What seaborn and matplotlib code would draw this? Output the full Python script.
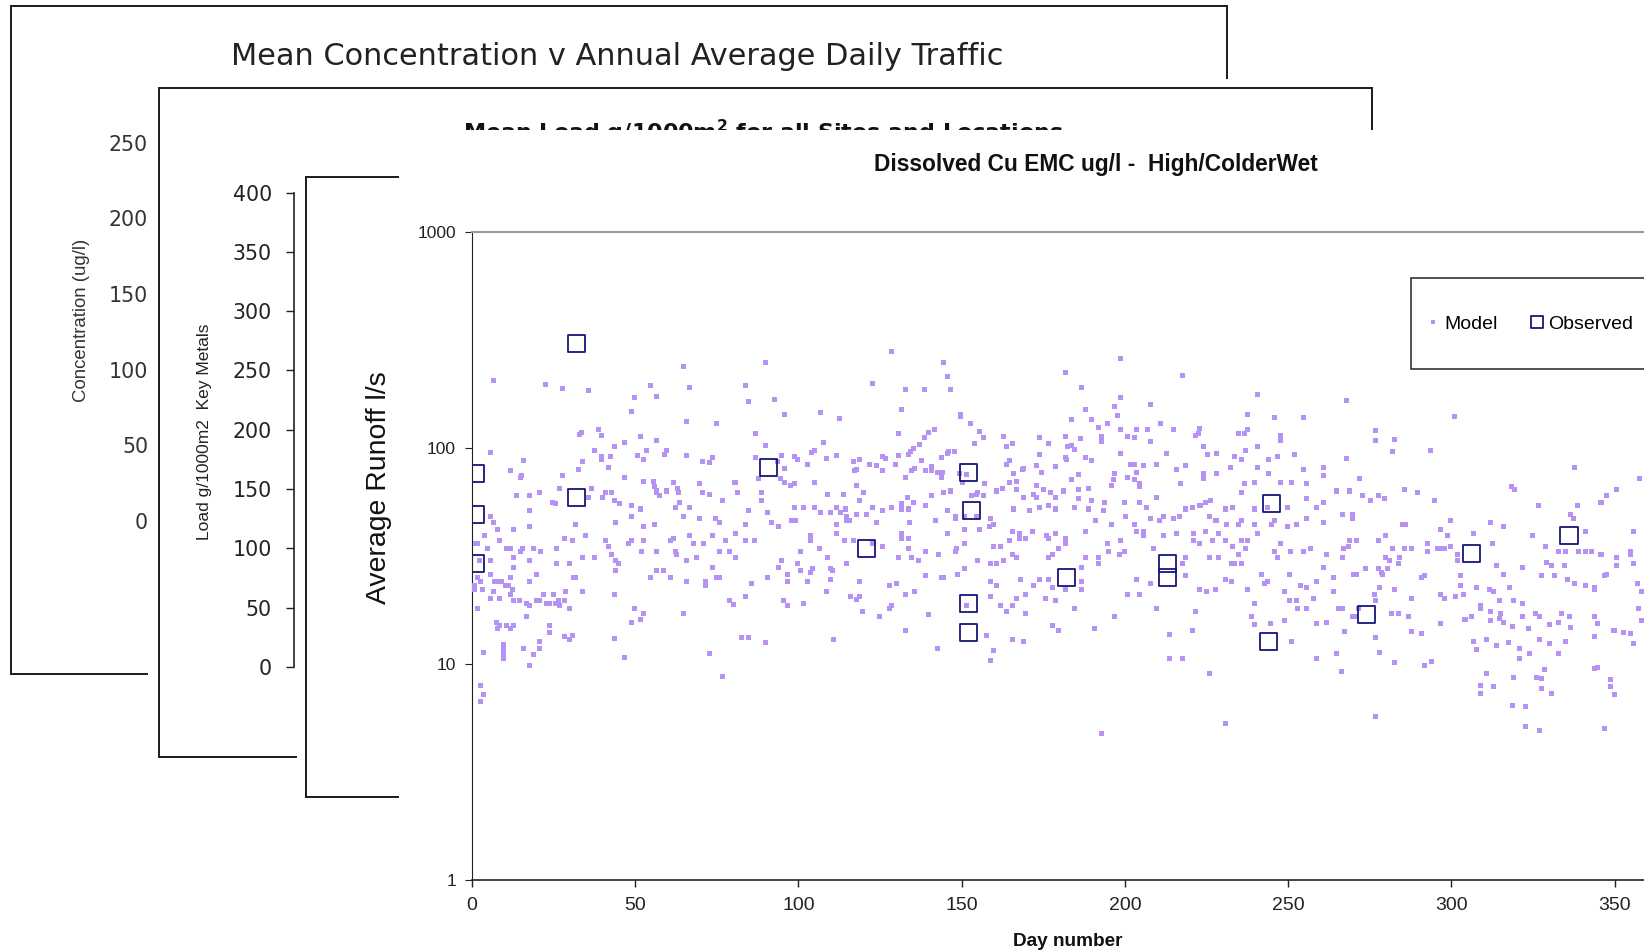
import matplotlib
matplotlib.use("Agg")
import matplotlib.pyplot as plt
from matplotlib.patches import Rectangle
from matplotlib.ticker import NullFormatter
import seaborn as sns

plt.rcParams['font.family'] = ['Liberation Sans', 'DejaVu Sans']
plt.rcParams['mathtext.fontset'] = 'dejavusans'

# ---------------- data ----------------
p1_title = "Mean Concentration v Annual Average Daily Traffic"
p1_ylabel = "Concentration (ug/l)"
p1_ticks = [0, 50, 100, 150, 200, 250]

p2_title = r"Mean Load g/1000m$^{\mathbf{2}}$ for all Sites and Locations"
p2_ylabel = "Load g/1000m2  Key Metals"
p2_ticks = [0, 50, 100, 150, 200, 250, 300, 350, 400]

p3_ylabel = "Average Runoff l/s"

main_title = "Dissolved Cu EMC ug/l -  High/ColderWet"
x_label = "Day number"
x_ticks = [0, 50, 100, 150, 200, 250, 300, 350]
y_ticks = [1, 10, 100, 1000]
y_tick_labels = ["1", "10", "100", "1000"]

obs_day = [1, 1, 1, 32, 32, 91, 121, 152, 153, 152, 152, 182, 213, 213, 245, 244, 274, 306, 336]
obs_val = [76, 49, 29, 303, 59, 81, 34, 77, 51, 19, 14, 25, 29, 25, 55, 12.7, 16.8, 32.5, 39]

model_q1 = [
    (6.6, 205), (22.7, 197), (27.8, 188), (35.7, 183), (48.8, 147), (49.7, 171), (54.8, 194), (56.7, 173),
    (64.8, 237), (66.7, 190), (65.8, 132), (74.8, 129), (51.7, 113), (56.6, 108), (33.0, 115), (33.7, 117),
    (38.8, 121), (39.8, 114), (46.7, 106), (43.7, 101), (37.7, 97), (39.8, 91), (39.8, 88), (42.6, 91),
    (50.8, 92), (52.6, 88), (53.6, 97), (59.0, 93), (59.7, 97), (65.8, 92), (70.7, 86), (72.7, 85),
    (73.8, 90), (5.6, 95), (15.8, 87), (11.7, 78), (15.3, 74), (14.8, 73), (27.8, 74), (32.6, 79),
    (33.9, 86), (41.8, 81), (46.7, 73), (52.5, 70), (55.9, 66), (56.6, 63), (57.6, 60), (59.7, 63),
    (61.7, 69), (63.0, 65), (63.3, 62), (63.6, 56), (62.5, 53), (66.6, 53), (69.7, 68), (72.7, 61),
    (76.8, 57), (80.6, 69), (81.4, 62), (13.7, 60), (17.8, 60), (20.7, 62), (24.7, 56), (25.5, 55),
    (26.8, 65), (35.7, 59), (36.7, 65), (39.9, 59), (40.8, 62), (42.8, 62), (43.7, 57), (45.1, 55),
    (48.9, 54), (48.9, 48), (51.8, 52), (52.5, 43), (55.9, 44), (64.8, 48), (69.7, 47), (75.8, 45),
    (74.7, 47), (80.7, 40), (5.6, 48), (6.6, 45), (7.9, 42), (12.7, 42), (17.8, 43), (17.8, 51),
    (31.9, 44), (34.9, 39), (43.9, 45), (40.8, 37), (41.8, 35), (47.9, 36), (48.9, 37), (52.0, 33),
    (52.7, 37), (56.6, 33), (60.7, 37), (61.7, 38), (62.5, 33), (62.7, 32), (66.8, 39), (67.8, 36),
    (68.9, 31), (71.0, 36), (73.8, 39), (75.8, 33), (77.8, 37), (78.9, 33), (80.7, 31), (65.8, 30),
    (73.8, 28), (71.7, 24), (71.7, 23), (75.0, 25), (75.8, 25), (65.8, 24), (60.7, 25), (54.8, 25),
    (56.6, 27), (58.7, 27), (43.9, 27), (43.9, 30), (44.9, 29), (42.8, 32), (37.7, 31), (33.9, 31),
    (31.1, 25), (31.8, 25), (29.9, 29), (25.8, 29), (25.8, 34), (28.5, 38), (30.9, 37), (20.9, 33),
    (18.8, 34), (14.8, 33), (15.6, 34), (11.7, 34), (10.7, 34), (8.6, 37), (3.8, 39), (1.1, 36),
    (1.8, 36), (4.9, 34), (5.6, 30), (2.5, 30), (12.7, 31), (12.7, 28), (17.8, 30), (19.9, 26),
    (17.8, 24), (11.9, 25), (12.5, 22), (5.6, 26), (1.8, 25), (0.7, 23), (0.7, 22), (2.7, 24),
    (3.2, 22), (7.1, 24), (8.1, 24), (9.1, 24), (10.2, 23), (11.2, 23), (6.6, 21.5), (5.6, 20),
    (8.6, 20), (11.7, 21), (12.7, 19.5), (14.7, 19.5), (16.8, 19), (17.8, 18.5), (16.8, 16.5), (19.7, 19.5),
    (20.7, 19.5), (21.9, 21), (22.9, 19), (23.9, 19), (24.9, 21), (25.5, 19), (26.5, 19.5), (26.8, 18.5),
    (28.5, 19.5), (28.8, 21.5), (29.8, 18), (1.7, 18), (43.6, 21), (49.7, 18), (49.0, 15.5), (51.8, 16),
    (52.7, 17), (64.8, 17), (78.9, 19.7), (80.1, 18.7), (7.6, 15.5), (8.6, 15), (10.7, 15), (12.7, 15),
    (7.8, 14.5), (11.9, 14.5), (23.7, 15), (23.7, 14), (28.5, 13.3), (29.8, 13), (30.9, 13.5), (20.7, 12.7),
    (20.7, 11.7), (9.7, 12.2), (9.7, 11.6), (9.7, 11.1), (9.7, 10.6), (15.8, 11.8), (19.0, 11.0), (3.7, 11.3),
    (43.6, 13.1), (46.7, 10.7), (72.7, 11.1), (17.8, 9.8), (2.7, 7.9), (3.7, 7.2), (2.7, 6.7), (76.8, 8.7),
    (55.6, 70), (56.6, 62), (70.7, 62), (33.9, 21.5),
]

model_q2 = [
    (128.6, 279), (144.6, 249), (145.6, 213), (89.8, 249), (83.7, 194), (84.7, 163), (92.7, 168), (95.7, 142),
    (106.9, 146), (112.7, 136), (122.8, 199), (132.7, 185), (138.6, 185), (146.7, 185), (131.6, 151), (149.7, 142),
    (149.7, 139), (152.6, 129), (155.6, 119), (156.7, 112), (162.8, 113), (173.8, 112), (86.8, 116), (89.8, 102),
    (107.7, 106), (130.8, 116), (138.6, 112), (139.8, 117), (141.7, 121), (137.2, 103), (135.4, 99), (134.2, 96),
    (133.7, 93), (145.9, 96), (147.8, 96), (163.8, 101), (165.6, 104), (153.9, 104), (86.9, 90), (94.7, 92),
    (98.8, 91), (99.7, 88), (104.1, 95), (104.8, 97), (111.8, 92), (108.7, 89), (102.9, 84), (116.9, 86),
    (118.7, 88), (121.7, 84), (123.8, 83), (125.8, 91), (126.8, 89), (129.6, 84), (130.8, 92), (137.8, 87),
    (143.7, 90), (145.7, 94), (163.8, 84), (164.6, 87), (168.7, 79), (172.8, 83), (95.7, 80), (93.7, 86),
    (117.3, 78), (117.9, 79), (125.8, 78), (132.7, 73), (134.7, 78), (135.5, 80), (138.8, 78), (140.8, 82),
    (140.8, 78), (142.7, 77), (143.7, 73), (144.2, 77), (87.9, 72), (94.4, 72), (95.7, 69), (97.7, 67),
    (98.8, 68), (104.8, 69), (117.9, 67), (119.9, 62), (149.3, 76), (150.3, 69), (151.5, 75), (157.0, 68),
    (155.0, 62), (160.7, 63), (162.6, 65), (164.8, 69), (166.9, 70), (166.7, 64), (168.9, 80), (172.8, 67),
    (172.8, 59), (165.8, 76), (88.8, 62), (88.8, 57), (108.9, 61), (113.8, 61), (118.7, 57), (133.5, 59),
    (135.2, 56), (140.8, 60), (144.6, 62), (146.7, 63), (153.1, 60), (154.6, 61), (156.7, 60), (165.8, 52),
    (168.9, 59), (170.7, 51), (172.0, 61), (84.7, 51), (90.6, 50), (98.8, 53), (101.5, 53), (104.8, 53),
    (106.8, 50), (109.7, 50), (111.8, 53), (112.8, 50), (114.3, 52), (114.8, 48), (115.8, 46), (117.9, 49),
    (121.0, 49), (122.8, 53), (125.8, 51), (128.6, 53), (131.6, 55), (131.6, 52), (133.7, 52), (138.8, 54),
    (145.6, 51), (148.0, 48), (148.0, 47), (151.0, 48), (154.6, 48), (158.7, 47), (159.7, 44), (158.5, 43),
    (83.7, 44), (91.8, 45), (94.0, 43), (98.0, 46), (99.0, 46), (111.8, 44), (111.8, 40), (114.8, 46),
    (123.8, 45), (133.9, 45), (141.9, 46), (145.7, 40), (150.8, 42), (155.6, 42), (165.6, 41), (171.7, 41),
    (83.7, 37), (86.7, 37), (103.6, 39), (103.6, 37), (106.6, 34), (100.8, 33), (108.9, 31), (114.2, 37),
    (114.6, 29), (116.9, 37), (122.8, 36), (125.7, 35), (131.6, 40), (131.6, 38), (133.7, 38), (130.8, 31),
    (133.7, 34), (134.7, 31), (136.8, 30), (138.8, 33), (142.9, 32), (148.0, 33), (148.5, 34), (150.8, 36),
    (154.8, 30), (158.7, 29), (160.7, 29), (162.8, 30), (159.7, 35), (161.8, 35), (164.8, 37), (165.6, 32),
    (166.7, 31), (167.7, 40), (167.7, 38), (169.7, 38), (94.7, 30), (94.0, 28), (90.6, 25), (85.7, 23.5),
    (83.7, 20.5), (96.7, 26), (96.7, 24), (99.8, 29), (100.8, 27), (103.6, 26.5), (104.4, 27.5), (109.7, 27.5),
    (110.5, 27), (109.7, 24.5), (108.7, 21.5), (102.9, 24), (95.4, 19.5), (96.7, 18.5), (101.5, 19), (114.8, 29),
    (118.7, 24), (115.9, 20.5), (118.7, 20.5), (117.9, 19.8), (119.7, 17.5), (124.8, 16.5), (127.9, 23), (130.1, 23.5),
    (127.9, 18), (128.6, 18.5), (132.7, 21), (135.7, 21.5), (138.8, 25.5), (139.8, 16.8), (143.7, 25), (144.6, 25),
    (148.7, 26), (150.8, 27.5), (151.5, 18.5), (157.7, 13.5), (159.7, 11.5), (158.7, 10.3), (158.7, 24), (160.7, 23),
    (158.7, 20.5), (161.8, 18.5), (163.8, 17.5), (169.7, 17), (166.9, 20), (169.7, 21), (172.0, 23), (167.9, 24.5),
    (165.6, 18.5), (165.6, 13), (168.9, 12.7), (82.6, 13.2), (84.7, 13.2), (89.8, 12.5), (110.9, 13), (132.7, 14.3),
    (142.7, 11.7),
]

model_q3 = [
    (198.8, 259), (181.9, 224), (217.7, 216), (186.6, 190), (240.7, 177), (198.8, 170), (196.7, 155), (207.7, 158),
    (187.8, 150), (197.7, 141), (183.7, 135), (189.8, 135), (194.7, 129), (210.8, 130), (237.6, 143), (245.8, 138),
    (254.6, 138), (191.9, 124), (198.8, 121), (203.6, 122), (206.9, 122), (214.8, 121), (222.8, 123), (222.5, 116),
    (221.7, 114), (234.7, 116), (236.7, 116), (237.6, 121), (247.7, 114), (247.7, 108), (181.9, 113), (186.3, 110),
    (192.7, 113), (192.7, 107), (200.8, 113), (202.9, 112), (207.7, 107), (176.6, 104), (182.5, 101), (183.7, 102),
    (184.7, 98), (187.8, 90), (189.8, 87), (182.2, 88), (174.0, 93), (178.6, 82), (181.9, 90), (198.8, 94),
    (212.8, 94), (224.0, 101), (225.3, 93), (228.2, 94), (233.7, 91), (235.8, 88), (237.0, 97), (240.7, 101),
    (243.9, 88), (246.8, 91), (251.8, 93), (201.6, 84), (202.9, 84), (205.7, 83), (209.8, 84), (215.7, 79),
    (218.6, 83), (185.8, 75), (196.7, 76), (200.8, 73), (203.6, 77), (224.0, 76), (228.2, 76), (232.4, 81),
    (240.7, 81), (243.9, 76), (254.6, 79), (260.7, 81), (260.7, 74), (174.5, 77), (178.9, 82), (183.7, 71),
    (185.8, 64), (181.2, 63), (177.1, 62), (175.1, 64), (195.8, 67), (196.5, 71), (202.9, 71), (204.6, 68),
    (204.6, 66), (216.9, 68), (224.0, 72), (236.7, 68), (239.8, 69), (247.7, 69), (250.9, 69), (255.7, 68),
    (178.9, 59), (178.8, 52), (188.8, 65), (185.9, 58), (189.8, 57), (193.7, 56), (199.8, 56), (204.6, 56),
    (209.8, 59), (218.7, 52), (220.7, 53), (223.0, 54), (224.8, 56), (226.1, 57), (230.9, 52), (233.0, 53),
    (235.8, 62), (239.8, 52), (243.7, 53), (245.8, 46), (249.8, 53), (255.7, 58), (258.7, 53), (260.7, 56),
    (264.8, 63), (174.0, 53), (176.6, 54), (184.7, 53), (188.8, 52), (193.4, 51), (200.1, 48), (206.7, 53),
    (190.9, 46), (195.9, 44), (202.9, 44), (207.7, 47), (210.7, 46), (211.8, 48), (214.8, 47), (216.7, 48),
    (225.9, 48), (227.9, 46), (231.2, 44), (234.7, 44), (235.8, 46), (239.6, 44), (244.8, 44), (249.7, 43),
    (252.7, 44), (255.7, 47), (260.7, 45), (187.8, 41), (176.1, 39), (176.6, 38), (178.6, 40), (181.9, 38),
    (181.9, 36), (194.7, 36), (198.8, 37), (199.8, 33), (203.6, 41), (205.6, 41), (205.6, 39), (208.7, 34),
    (211.8, 39), (215.9, 40), (221.0, 40), (221.0, 37), (222.8, 36), (224.8, 41), (226.9, 37), (228.8, 40),
    (230.7, 37), (233.0, 35), (235.8, 37), (236.9, 34), (237.6, 37), (240.7, 40), (245.8, 33), (246.8, 31),
    (247.7, 36), (250.8, 33), (254.6, 33), (256.9, 34), (261.7, 32), (176.6, 31), (177.8, 32), (179.6, 34),
    (187.8, 31), (191.9, 31), (191.9, 29), (194.9, 33), (198.2, 32), (217.7, 29), (218.7, 31), (225.9, 31),
    (228.8, 31), (232.7, 29), (233.7, 29), (234.7, 32), (235.8, 29), (174.0, 24.5), (176.6, 24.5), (177.8, 22.5),
    (181.9, 22), (186.8, 28), (186.8, 24), (186.8, 22), (203.6, 24.5), (207.7, 23.5), (218.6, 25.5), (230.9, 24.5),
    (232.7, 24), (222.9, 22), (225.1, 21.5), (227.6, 22), (241.7, 26), (242.7, 23.5), (243.7, 24), (248.8, 21.5),
    (250.5, 26), (250.5, 19.5), (252.6, 19.5), (253.8, 23), (255.7, 22.5), (258.7, 24), (260.7, 28), (261.7, 15.5),
    (263.8, 25), (263.8, 21.5), (265.3, 18), (175.8, 20), (178.8, 19.5), (184.7, 18), (200.8, 21), (204.6, 21),
    (209.8, 18), (221.7, 17.5), (237.6, 22), (239.7, 19), (244.5, 15.3), (248.8, 15.8), (252.8, 18), (255.7, 18),
    (257.9, 20), (177.8, 15), (179.6, 14.3), (190.7, 14.6), (196.7, 16.5), (213.8, 13.6), (220.7, 14.3), (238.8, 16.5),
    (239.8, 15.2), (250.9, 12.6), (258.7, 15.4), (261.6, 15.5), (213.8, 10.6), (217.7, 10.6), (258.7, 10.6), (264.8, 11.1),
    (225.8, 9.0), (192.9, 4.75), (230.9, 5.3),
]

model_q4 = [
    (267.9, 166), (300.9, 139), (276.8, 120), (276.8, 108), (282.5, 109), (281.9, 96), (267.9, 88.7), (293.7, 97),
    (337.7, 81), (271.8, 72), (357.5, 72), (319.3, 64), (318.5, 66), (268.7, 63), (272.7, 60), (275.1, 57),
    (277.6, 60), (279.5, 58), (285.6, 64), (289.7, 62), (294.9, 57), (326.8, 54), (338.7, 54), (345.8, 56),
    (347.6, 60), (350.6, 64), (336.6, 49), (337.3, 47), (266.7, 49), (269.8, 49), (269.8, 47), (285.1, 44),
    (286.0, 44), (299.6, 46), (316.0, 43), (311.9, 45), (296.8, 42), (298.9, 39), (299.8, 35), (296.8, 34),
    (279.8, 39), (277.8, 37), (268.7, 37), (270.8, 37), (268.4, 35), (266.9, 34), (281.9, 34), (285.6, 34),
    (287.8, 34), (292.7, 36), (292.7, 33), (295.8, 34), (297.8, 34), (301.9, 32), (301.8, 30), (306.7, 40),
    (312.7, 36), (324.8, 39), (328.7, 35), (332.8, 33), (334.8, 33), (338.9, 33), (341.1, 33), (342.8, 33),
    (341.0, 41), (345.8, 32), (350.6, 31), (354.7, 33), (354.7, 32), (355.7, 41), (279.7, 31), (281.0, 30),
    (284.0, 31), (283.7, 29), (290.9, 25), (291.9, 25.5), (280.5, 27.5), (278.6, 26.5), (278.9, 26), (266.7, 31),
    (269.9, 26), (270.8, 26), (273.8, 27.5), (277.8, 27.5), (302.9, 25.5), (302.8, 23), (307.7, 22.5), (311.8, 22),
    (312.8, 21.5), (313.7, 28.5), (315.9, 26), (317.9, 22.5), (321.8, 28), (327.7, 25.5), (329.0, 29.5), (330.7, 28.5),
    (331.7, 25.5), (334.5, 28.5), (335.6, 24.5), (337.8, 23.5), (341.2, 23), (343.8, 22.5), (343.8, 22), (347.0, 25.5),
    (347.5, 26), (350.6, 28.5), (355.7, 29), (356.9, 23.5), (358.2, 21.5), (266.7, 18), (269.8, 16.5), (271.5, 18),
    (276.4, 21), (276.8, 19.5), (277.9, 22.5), (282.7, 22), (287.8, 20), (296.5, 21), (297.8, 20), (301.1, 20.5),
    (303.6, 21), (304.2, 16), (308.8, 18.5), (308.8, 18), (311.9, 17.5), (314.7, 19.5), (314.9, 17), (319.0, 19.5),
    (321.8, 19), (270.5, 16.6), (281.7, 17), (283.7, 17), (286.8, 16.5), (296.8, 15.3), (304.0, 16), (306.0, 16.5),
    (311.9, 15.8), (314.7, 16.2), (316.0, 15.5), (318.8, 14.8), (321.8, 16.5), (323.6, 14.6), (325.6, 17), (326.9, 16.5),
    (330.0, 15.1), (332.7, 15.5), (333.8, 17), (336.3, 16.5), (336.6, 14.7), (343.9, 16.6), (344.8, 15.3), (349.9, 14.3),
    (352.6, 14), (354.9, 13.8), (357.2, 18), (358.2, 15.8), (267.4, 14.1), (276.8, 13.2), (277.9, 11.3), (287.8, 14.1),
    (290.9, 13.8), (306.7, 12.6), (307.7, 11.6), (310.8, 12.9), (313.8, 12.1), (317.4, 12.5), (320.8, 11.8), (320.8, 10.6),
    (323.8, 11.1), (326.9, 13), (330.0, 12.4), (332.9, 11.2), (334.8, 12.6), (343.9, 13.3), (349.5, 14.3), (355.7, 12.4),
    (282.7, 10.1), (291.9, 9.8), (293.8, 10.2), (266.4, 9.2), (310.8, 9.0), (318.9, 8.6), (325.9, 8.6), (327.6, 8.5),
    (327.6, 7.7), (328.6, 9.4), (330.7, 7.3), (308.8, 7.9), (312.8, 7.8), (308.8, 7.3), (318.7, 6.4), (322.8, 6.3),
    (343.9, 9.5), (344.7, 9.6), (348.8, 8.4), (348.8, 7.8), (349.8, 7.2), (276.8, 5.7), (322.8, 5.1), (326.9, 4.9),
    (346.8, 5.0),
]

model_color = "#B592F3"
obs_color = "#16167A"

# ---------------- layout helpers ----------------
W, H = 1644, 952
fig = plt.figure(figsize=(W / 100, H / 100), dpi=100)
fig.patch.set_facecolor("white")


def box(l, t, r, b):
    return [l / W, 1 - b / H, (r - l) / W, (b - t) / H]


def fx(x):
    return x / W


def fy(y):
    return 1 - y / H


def blank(ax):
    ax.set_xticks([])
    ax.set_yticks([])
    for s in ax.spines.values():
        s.set_visible(False)


def frame(ax, l, t, r, b, lw=1.4):
    ax.add_patch(Rectangle((fx(l), fy(b)), (r - l) / W, (b - t) / H, transform=fig.transFigure,
                           fill=False, ec="#1a1a1a", lw=lw, clip_on=False))


# ---------------- panel 1 (back) ----------------
ax1 = fig.add_axes(box(0, 0, 1240, 690), zorder=1)
blank(ax1)
ax1.set_facecolor("white")
frame(ax1, 11, 6, 1226.7, 674)
ax1.text(fx(617.6), fy(65), p1_title, transform=fig.transFigure, ha="center", va="baseline",
         fontsize=21.9, family="DejaVu Sans", color="#222222")
ax1.text(fx(81), fy(320), p1_ylabel, transform=fig.transFigure, rotation=90, ha="center", va="center",
         fontsize=13.4, color="#333333")

ax1d = fig.add_axes(box(158, 142.7, 400, 521.1), zorder=1.1)
ax1d.set_facecolor("none")
ax1d.set_ylim(0, 250)
ax1d.set_yticks(p1_ticks)
ax1d.set_yticklabels([str(t) for t in p1_ticks], fontsize=14.8, family="DejaVu Sans", color="#333333")
ax1d.tick_params(axis="y", length=0, pad=7.2)
ax1d.set_xticks([])
for s in ax1d.spines.values():
    s.set_visible(False)

# ---------------- panel 2 ----------------
ax2 = fig.add_axes(box(148, 79, 1382, 767), zorder=2)
blank(ax2)
ax2.set_facecolor("white")
frame(ax2, 158.7, 87.7, 1371.5, 757)
ax2.text(fx(763.3), fy(140.5), p2_title, transform=fig.transFigure, ha="center", va="baseline",
         fontsize=16, fontweight="bold", family="DejaVu Sans", color="#111111")
ax2.text(fx(204), fy(432), p2_ylabel, transform=fig.transFigure, rotation=90, ha="center", va="center",
         fontsize=12.5, color="#222222")

ax2d = fig.add_axes(box(294, 192.7, 400, 666.8), zorder=2.1)
ax2d.set_facecolor("none")
ax2d.set_ylim(0, 400)
ax2d.set_yticks(p2_ticks)
ax2d.set_yticklabels([str(t) for t in p2_ticks], fontsize=14.8, family="DejaVu Sans", color="#222222")
ax2d.tick_params(axis="y", left=True, length=5.5, width=1.0, pad=10.5, direction="out", color="#222222")
ax2d.set_xticks([])
for k, s in ax2d.spines.items():
    s.set_visible(k == "left")
ax2d.spines["left"].set_color("#222222")
ax2d.spines["left"].set_linewidth(1.2)

# ---------------- panel 3 ----------------
ax3 = fig.add_axes(box(297, 168, 420, 806), zorder=3)
blank(ax3)
ax3.set_facecolor("white")
frame(ax3, 306, 176.7, 1600, 796.8)
ax3.text(fx(379), fy(488), p3_ylabel, transform=fig.transFigure, rotation=90, ha="center", va="center",
         fontsize=20.4, color="#111111")

# ---------------- main panel ----------------
axbg = fig.add_axes(box(398.7, 130, 1700, 1000), zorder=4)
blank(axbg)
axbg.set_facecolor("white")
axbg.text(fx(1095.7), fy(171.3), main_title, transform=fig.transFigure, ha="center", va="baseline",
          fontsize=16.4, fontweight="bold", color="#111111")
axbg.text(fx(1067.7), fy(946), x_label, transform=fig.transFigure, ha="center", va="baseline",
          fontsize=13.7, fontweight="bold", color="#111111")

ax = fig.add_axes(box(471.8, 231.7, 1663.7, 879.6), zorder=5)
ax.set_facecolor("none")

m_days = [d for q in (model_q1, model_q2, model_q3, model_q4) for d, v in q]
m_vals = [v for q in (model_q1, model_q2, model_q3, model_q4) for d, v in q]

sns.scatterplot(x=m_days, y=m_vals, ax=ax, marker="s", s=13, color=model_color,
                edgecolor="none", linewidth=0, label="Model", legend=False, zorder=3)
sns.scatterplot(x=obs_day, y=obs_val, ax=ax, marker="s", s=150, color=obs_color,
                edgecolor=obs_color, linewidth=1.3, label="Observed", legend=False, zorder=4)
obs_coll = ax.collections[-1]
obs_coll.set_facecolor("none")
obs_coll.set_edgecolor(obs_color)
obs_coll.set_linewidth(1.3)

ax.set_yscale("log")
ax.set_xlim(0, 365)
ax.set_ylim(1, 1000)
ax.set_xlabel("")
ax.set_ylabel("")

ax.set_xticks(x_ticks)
ax.set_xticklabels([str(t) for t in x_ticks], fontsize=14, color="#222222")
ax.set_yticks(y_ticks)
ax.set_yticklabels(y_tick_labels, fontsize=12.5, color="#222222")
ax.set_yticks([10, 100], minor=True)
ax.yaxis.set_minor_formatter(NullFormatter())
ax.tick_params(axis="y", which="minor", length=0, left=False)
ax.tick_params(axis="x", which="major", bottom=True, length=4.8, width=1.0, pad=7.4,
               direction="out", color="#222222")
ax.tick_params(axis="y", which="major", left=True, length=4.8, width=0.8, pad=6.5,
               direction="out", color="#222222")
ax.set_axisbelow(True)
ax.grid(False, which="major")
ax.grid(True, which="minor", axis="y", color="#1a1a1a", linewidth=1.0)

ax.spines["right"].set_visible(False)
ax.spines["top"].set_color("#9a9a9a")
ax.spines["top"].set_linewidth(1.5)
ax.spines["left"].set_color("#222222")
ax.spines["left"].set_linewidth(0.8)
ax.spines["bottom"].set_color("#222222")
ax.spines["bottom"].set_linewidth(1.2)

# legend box (extends past the right edge, as in the reference)
ax.add_patch(Rectangle((fx(1410.5), fy(369)), (1700 - 1410.5) / W, (369 - 277.5) / H,
                       transform=fig.transFigure, facecolor="white", edgecolor="#222222",
                       lw=1.1, clip_on=False, zorder=6))
leg = ax.legend(loc="center left", bbox_to_anchor=(fx(1425.2), fy(324)), bbox_transform=fig.transFigure,
                ncol=2, frameon=False, borderpad=0, borderaxespad=0, handlelength=0.8,
                handletextpad=0.2, columnspacing=1.59, fontsize=14, scatterpoints=1,
                scatteryoffsets=[0.5])
leg.set_zorder(7)
leg.legend_handles[1].set_sizes([70])
leg.legend_handles[0].set_sizes([11])

fig.savefig("out.png", dpi=100, facecolor="white")
